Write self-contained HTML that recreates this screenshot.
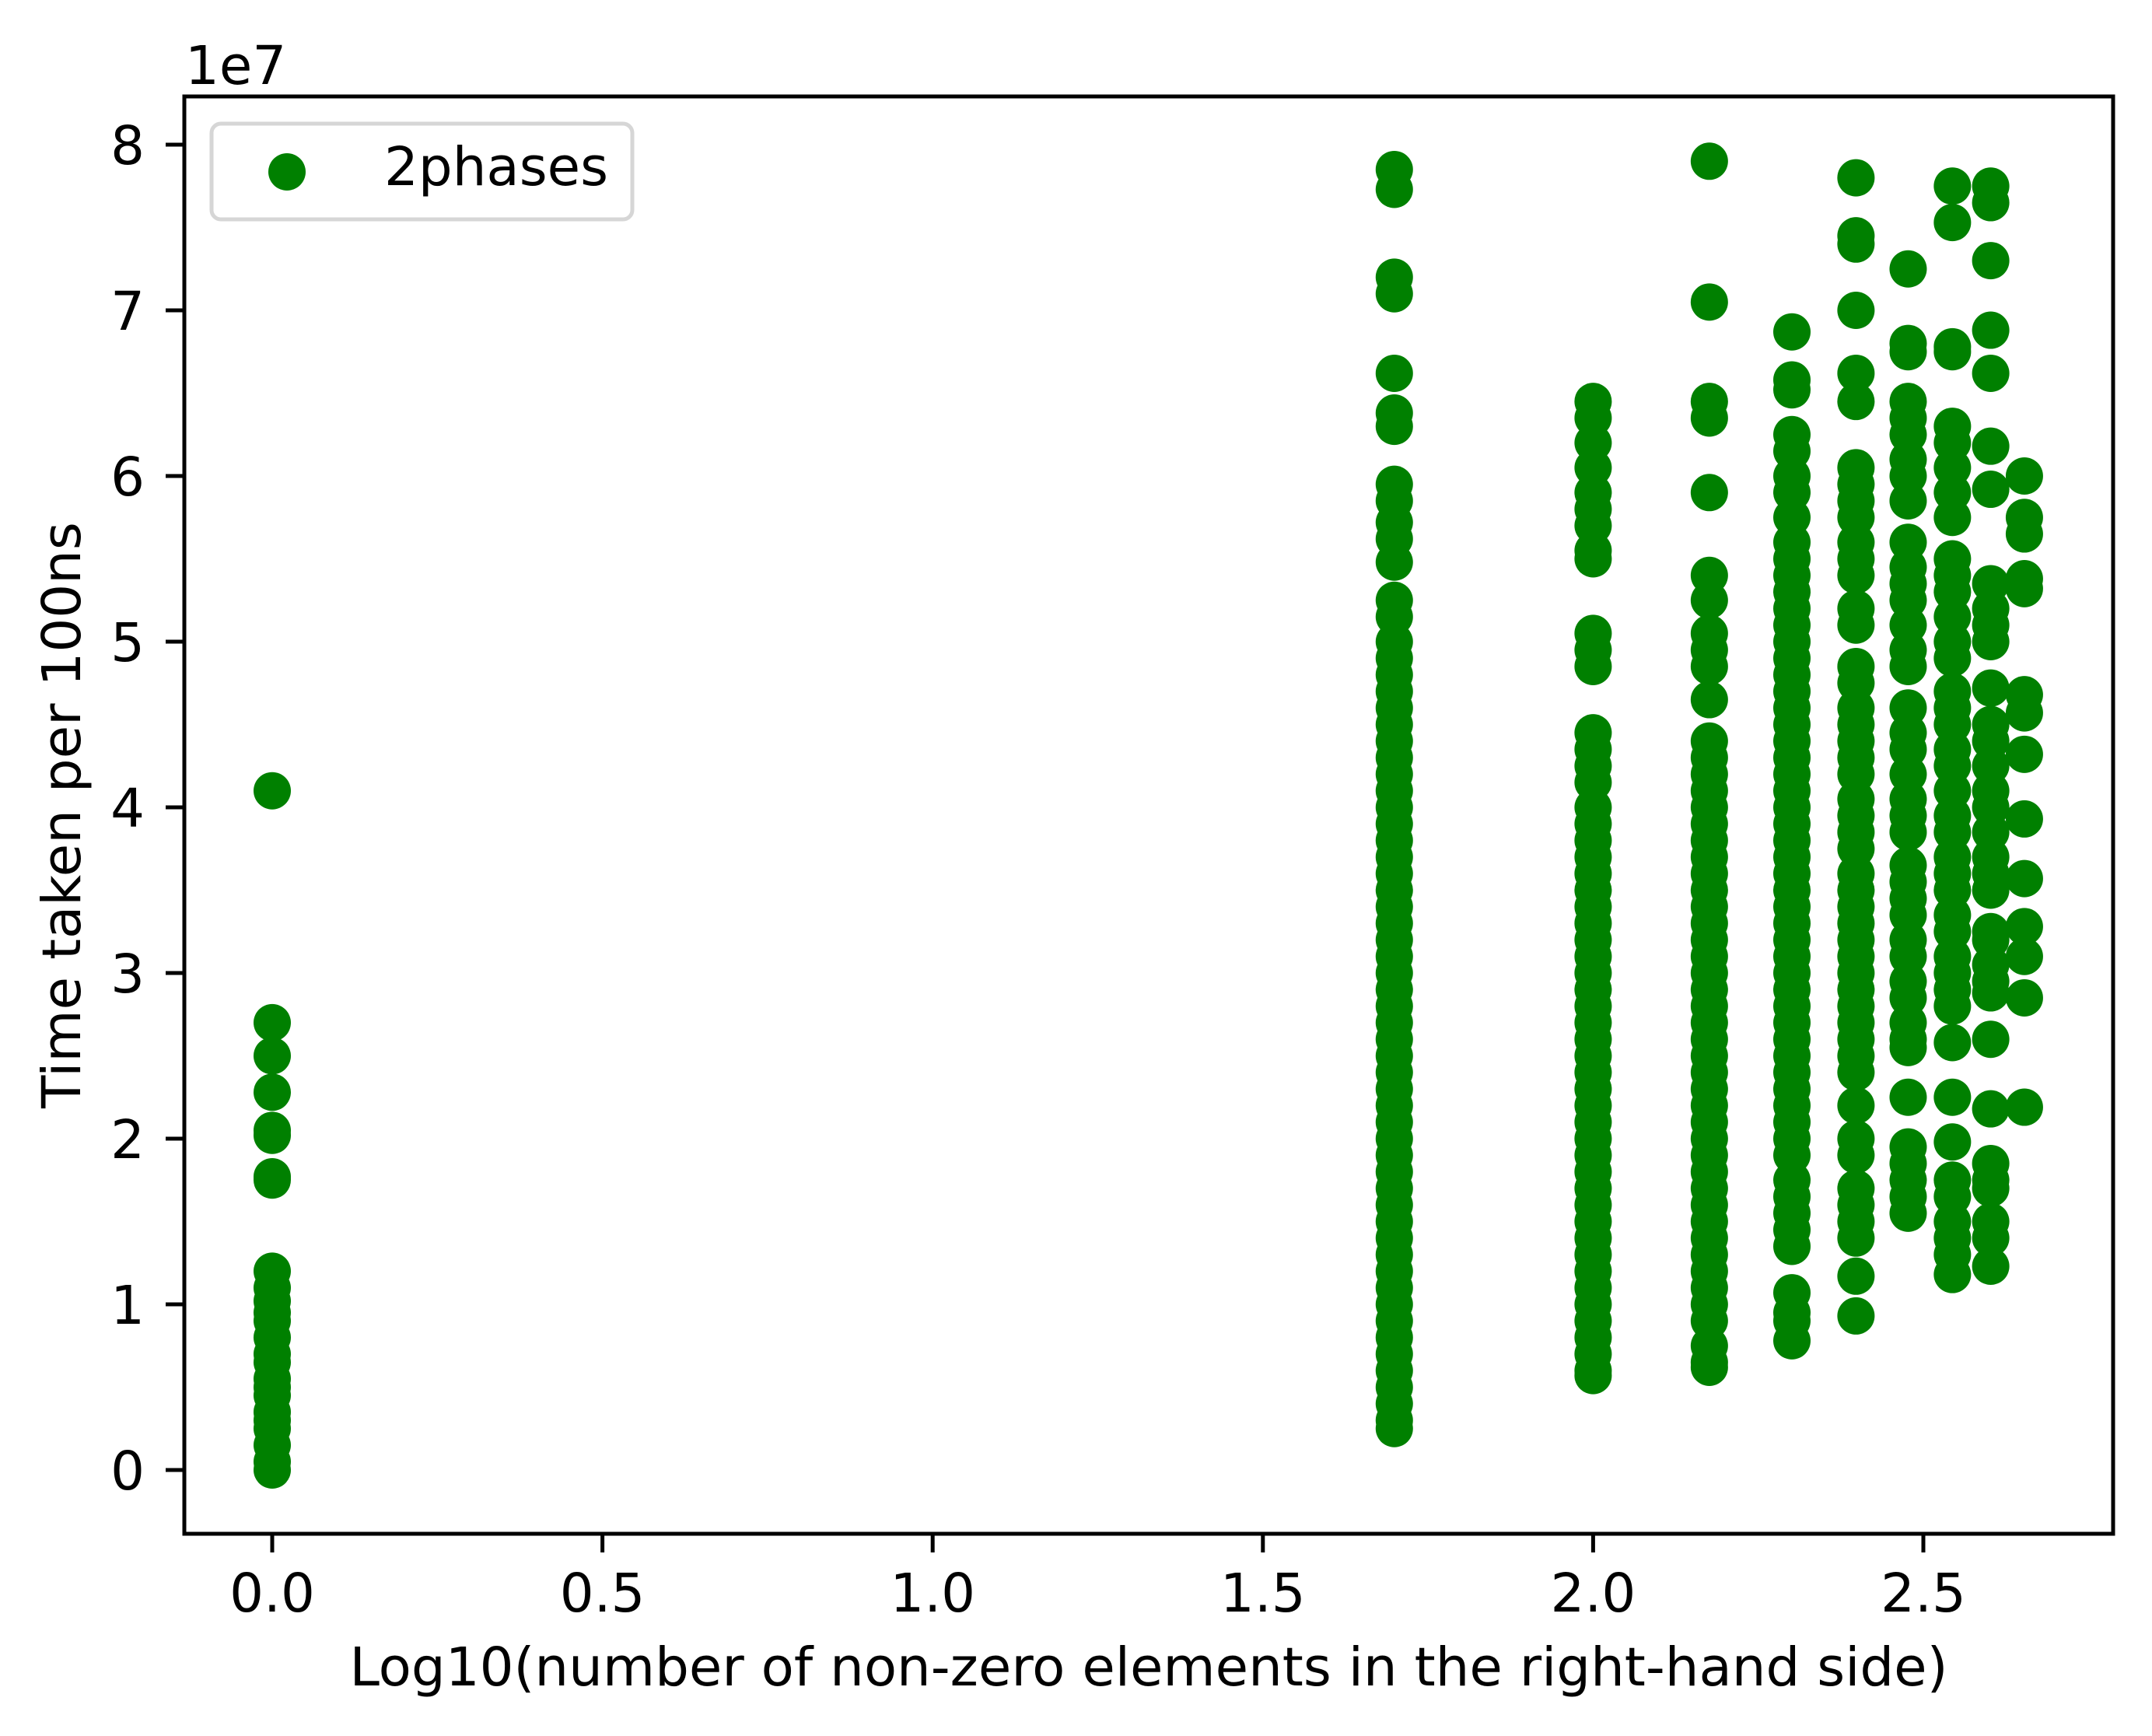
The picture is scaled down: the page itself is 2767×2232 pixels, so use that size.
<!DOCTYPE html>
<html><head><meta charset="utf-8"><style>
html,body{margin:0;padding:0;background:#fff;}
svg{display:block;font-family:"DejaVu Sans","Liberation Sans",sans-serif;}
</style></head><body>
<svg id="chart" width="2767" height="2232" viewBox="0 0 2767 2232" xmlns="http://www.w3.org/2000/svg">
<rect width="2767" height="2232" fill="#fff"/>
<g id="points"></g>
<g id="axes"></g>
</svg>
<script>
const xCategories = [0, 1.699, 2.0, 2.176, 2.301, 2.398, 2.477, 2.544, 2.602, 2.653];
const col0 = [4.1,2.7,2.5,2.28,2.05,2.02,1.77,1.75,1.2,1.1,1.02,0.95,0.8,0.65,0.55,0.45,0.35,0.25,0.15,0.05,0.0,0.3,0.5,0.7,0.9];
const col1 = [7.85,7.73,7.2,7.1,6.62,6.38,6.3,5.95,5.85,5.72,5.62,5.48,5.25,5.15,5.0,4.9,4.8,4.7,4.6,4.5,4.4,4.3,4.2,4.1,4.0,3.9,3.8,3.7,3.6,3.5,3.4,3.3,3.2,3.1,3.0,2.9,2.8,2.7,2.6,2.5,2.4,2.3,2.2,2.1,2.0,1.9,1.8,1.7,1.6,1.5,1.4,1.3,1.2,1.1,1.0,0.9,0.8,0.7,0.6,0.5,0.4,0.3,0.25];
const col2 = [6.45,6.35,6.2,6.05,5.9,5.8,5.7,5.55,5.5,5.05,4.95,4.85,4.45,4.35,4.25,4.15,4.0,3.9,3.8,3.7,3.6,3.5,3.4,3.3,3.2,3.1,3.0,2.9,2.8,2.7,2.6,2.5,2.4,2.3,2.2,2.1,2.0,1.9,1.8,1.7,1.6,1.5,1.4,1.3,1.2,1.1,1.0,0.9,0.8,0.7,0.6,0.57];
const col3 = [7.9,7.05,6.45,6.35,5.9,5.4,5.25,5.05,4.95,4.85,4.65,4.4,4.3,4.2,4.1,4.0,3.9,3.8,3.7,3.6,3.5,3.4,3.3,3.2,3.1,3.0,2.9,2.8,2.7,2.6,2.5,2.4,2.3,2.2,2.1,2.0,1.9,1.8,1.7,1.6,1.5,1.4,1.3,1.2,1.1,1.0,0.9,0.75,0.65,0.62];
const col4 = [6.87,6.58,6.52,6.25,6.15,6.0,5.9,5.75,5.6,5.5,5.4,5.3,5.2,5.1,5.0,4.9,4.8,4.7,4.6,4.5,4.4,4.3,4.2,4.1,4.0,3.9,3.8,3.7,3.6,3.5,3.4,3.3,3.2,3.1,3.0,2.9,2.8,2.7,2.6,2.5,2.4,2.3,2.2,2.1,2.0,1.9,1.75,1.65,1.55,1.45,1.35,1.07,0.95,0.9,0.78];
const col5 = [7.8,7.45,7.4,7.0,6.62,6.45,6.05,5.95,5.85,5.75,5.6,5.5,5.4,5.2,5.1,4.85,4.75,4.6,4.5,4.4,4.3,4.2,4.05,3.95,3.85,3.75,3.6,3.5,3.4,3.3,3.2,3.1,3.0,2.9,2.8,2.7,2.6,2.5,2.4,2.2,2.0,1.9,1.7,1.6,1.5,1.4,1.17,0.93];
const col6 = [7.25,6.8,6.75,6.45,6.35,6.25,6.1,6.0,5.85,5.6,5.45,5.35,5.25,5.1,4.95,4.85,4.6,4.45,4.35,4.2,4.05,3.95,3.85,3.65,3.55,3.45,3.35,3.2,3.1,2.95,2.85,2.7,2.6,2.55,2.25,1.95,1.85,1.75,1.65,1.55];
const col7 = [7.75,7.53,6.78,6.75,6.3,6.2,6.05,5.9,5.75,5.5,5.4,5.3,5.15,5.0,4.9,4.7,4.6,4.5,4.35,4.25,4.1,3.95,3.85,3.7,3.6,3.5,3.35,3.25,3.1,3.0,2.9,2.8,2.58,2.25,1.98,1.75,1.65,1.5,1.4,1.3,1.18];
const col8 = [7.75,7.65,7.3,6.88,6.62,6.18,5.92,5.35,5.2,5.1,5.0,4.72,4.5,4.4,4.25,4.1,4.0,3.85,3.7,3.6,3.5,3.25,3.2,3.05,2.95,2.88,2.6,2.18,1.85,1.75,1.7,1.5,1.4,1.23];
const col9 = [6.0,5.75,5.65,5.38,5.32,4.68,4.57,4.32,3.93,3.57,3.28,3.1,2.85,2.19];
const columns = [col0,col1,col2,col3,col4,col5,col6,col7,col8,col9];
const xTicks = [0.0,0.5,1.0,1.5,2.0,2.5];
const xTickLabels = ["0.0","0.5","1.0","1.5","2.0","2.5"];
const yTicks = [0,1,2,3,4,5,6,7,8];
const yTickLabels = ["0","1","2","3","4","5","6","7","8"];

const NS="http://www.w3.org/2000/svg";
const L=237,R=2717,T=124,B=1972;
function xs(v){return 350+v*849.2;}
function ys(v){return 1890-v*213;}
function mk(tag,attrs,parent){const e=document.createElementNS(NS,tag);for(const k in attrs)e.setAttribute(k,attrs[k]);parent.appendChild(e);return e;}
const pts=document.getElementById('points');
columns.forEach((col,ci)=>{col.forEach(v=>{
  const c=mk('circle',{cx:xs(xCategories[ci]),cy:ys(v),r:24,fill:'#008000'},pts);
  
  
});});
const ax=document.getElementById('axes');
const frame=mk('rect',{x:L,y:T,width:R-L,height:B-T,fill:'none',stroke:'#000','stroke-width':5},ax);


xTicks.forEach((t,i)=>{
  const x=xs(t);
  const ln=mk('line',{x1:x,y1:B,x2:x,y2:B+24,stroke:'#000','stroke-width':5},ax);
  
  
  const tx=mk('text',{x:x,y:2072,'font-size':69,'text-anchor':'middle'},ax);
  tx.textContent=xTickLabels[i];
  
  
});
yTicks.forEach((t,i)=>{
  const y=ys(t);
  const ln=mk('line',{x1:L-24,y1:y,x2:L,y2:y,stroke:'#000','stroke-width':5},ax);
  
  
  const tx=mk('text',{x:186,y:y+25,'font-size':69,'text-anchor':'end'},ax);
  tx.textContent=yTickLabels[i];
  
  
});
</script>
<script>
(function(){
const NS="http://www.w3.org/2000/svg";
const svg=document.getElementById('chart');
function mk(tag,attrs){const e=document.createElementNS(NS,tag);for(const k in attrs)e.setAttribute(k,attrs[k]);svg.appendChild(e);return e;}
const off=mk('text',{x:238,y:108,'font-size':69});
off.textContent='1e7';


const xl=mk('text',{x:1477,y:2167,'font-size':69,'text-anchor':'middle'});
xl.textContent='Log10(number of non-zero elements in the right-hand side)';


const yl=mk('text',{x:0,y:0,'font-size':69,'text-anchor':'middle',transform:'translate(103,1048) rotate(-90)'});
yl.textContent='Time taken per 100ns';


const lb=mk('rect',{x:272,y:159,width:541,height:123,rx:12,fill:'#fff','fill-opacity':0.8,stroke:'#d6d6d6','stroke-width':5});


const lm=mk('circle',{cx:369,cy:221,r:24,fill:'#008000'});


const lt=mk('text',{x:494,y:238,'font-size':69});
lt.textContent='2phases';


})();
</script>
</body></html>
